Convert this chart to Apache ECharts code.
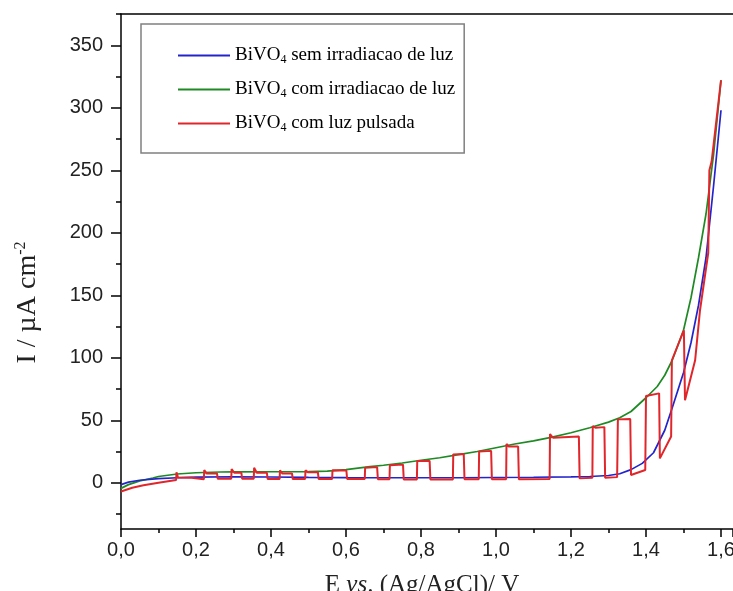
<!DOCTYPE html>
<html>
<head>
<meta charset="utf-8">
<script src="https://cdn.jsdelivr.net/npm/echarts@6/dist/echarts.min.js"></script>
<style>html,body{margin:0;padding:0;background:#fff;}#c{width:733px;height:591px;}</style>
</head>
<body>
<div id="c"></div>
<script>
// ---- data ----
const xTickLabels = [0, 0.2, 0.4, 0.6, 0.8, 1.0, 1.2, 1.4, 1.6];
const yMajorTicks = [0, 50, 100, 150, 200, 250, 300, 350];
const yMinorTicks = [-25, 25, 75, 125, 175, 225, 275, 325, 375];

const blueE = [0,0.02,0.05,0.1,0.15,0.2,0.3,0.4,0.5,0.6,0.7,0.8,0.9,1.0,1.1,1.2,1.25,1.3,1.33,1.36,1.39,1.42,1.45,1.47,1.5,1.52,1.54,1.56,1.58,1.6];
const blueI = [-1.5,0.5,2,3.3,4,4.5,4.8,4.6,4.3,4.1,4,4,4,4.2,4.4,4.7,5,5.8,7.2,10.5,15.5,24,42,60,88,112,142,180,237,298];

const greenE = [0,0.02,0.05,0.085,0.1,0.15,0.2,0.264,0.3,0.4,0.5,0.55,0.6,0.664,0.7,0.75,0.8,0.85,0.9,0.95,1.0,1.05,1.1,1.15,1.2,1.25,1.3,1.33,1.36,1.4,1.43,1.45,1.47,1.5,1.52,1.54,1.56,1.58,1.6];
const greenI = [-4.5,-1.5,1.5,3.8,5,7,8,8.6,8.7,8.8,8.9,9.3,10.5,12.9,14,15.8,18,20,22.5,25,28,31,33.5,36.5,40,44,48.5,52,57,68,77,86,98,122,148,180,215,262,322];

const redE = [0,0.03,0.06,0.1,0.147,
  0.148,0.152,0.188,0.19,0.221,
  0.222,0.228,0.256,0.258,0.294,
  0.295,0.302,0.321,0.323,0.354,
  0.355,0.362,0.389,0.391,0.423,
  0.424,0.43,0.456,0.458,0.491,
  0.492,0.498,0.525,0.527,0.563,
  0.564,0.601,0.603,0.65,
  0.651,0.683,0.685,0.716,
  0.717,0.752,0.754,0.789,
  0.79,0.823,0.825,0.885,
  0.886,0.914,0.916,0.954,
  0.955,0.987,0.989,1.027,
  1.028,1.034,1.059,1.061,1.143,
  1.144,1.152,1.221,1.223,1.257,
  1.258,1.265,1.289,1.291,1.323,
  1.325,1.358,1.36,1.398,
  1.4,1.435,1.437,1.467,
  1.469,1.501,1.504,1.531,1.544,1.566,1.569,1.575,1.6];
const redI = [-7,-4,-2,0,2.2,
  8.3,4.2,4,2.5,2.8,
  10.2,7.5,7.5,3.2,3.2,
  11,8,8,3.2,3.2,
  12,8,8,3,3,
  10,7.5,7.5,3,3,
  10,8.5,8.5,3,3,
  10,9.8,3,3,
  12,12.5,2.8,2.8,
  14,14.5,2.7,2.7,
  17.4,17.5,2.7,2.7,
  22.7,23,2.8,2.8,
  25,25.5,2.8,2.8,
  31,29,29,2.8,3,
  39,36,37,3.5,4,
  45.4,44,44.5,4,4.5,
  50.7,51,6.2,10.2,
  69.4,71.5,19.5,37,
  98,122,66,98,138,184,250,257,322];

function zip(a, b) { return a.map((v, i) => [v, b[i]]); }

const serif = 'Liberation Serif';
const sans = 'Liberation Sans';
const X_MAX = 1.632;

const chart = echarts.init(document.getElementById('c'), null, {renderer: 'canvas'});
chart.setOption({
  animation: false,
  backgroundColor: '#fff',
  grid: {left: 121, top: 14, bottom: 62, right: 0, show: false, outerBoundsMode: 'none', containLabel: false},
  legend: {
    orient: 'vertical', left: 141, top: 24,
    padding: [22, 9, 19, 37], itemGap: 14, itemWidth: 52, itemHeight: 2,
    icon: 'rect',
    borderColor: '#808080', borderWidth: 1.5, backgroundColor: '#fff',
    textStyle: {
      fontFamily: serif, fontSize: 19, color: '#000',
      rich: {
        a: {fontFamily: serif, fontSize: 19, color: '#000'},
        s: {fontFamily: serif, fontSize: 12, color: '#000', verticalAlign: 'bottom', padding: [9, 0, 0, 0]}
      }
    },
    formatter: function (name) {
      const rest = name.replace('BiVO4', '');
      return '{a|BiVO}{s|4}{a|' + rest + '}';
    },
    data: ['BiVO4 sem irradiacao de luz', 'BiVO4 com irradiacao de luz', 'BiVO4 com luz pulsada']
  },
  xAxis: [{
    type: 'value', min: 0, max: X_MAX, interval: 0.2,
    axisLine: {show: true, onZero: false, lineStyle: {color: '#000', width: 1.5}},
    axisTick: {show: true, inside: false, length: 8, lineStyle: {color: '#000', width: 1.5}},
    minorTick: {show: true, splitNumber: 2, length: 4, lineStyle: {color: '#000', width: 1.5}},
    splitLine: {show: false},
    axisLabel: {
      margin: 11, fontFamily: sans, fontSize: 20, color: '#222',
      customValues: xTickLabels,
      formatter: v => v.toFixed(1).replace('.', ',')
    },
    name: '{a|E }{i|vs}{a|. (Ag/AgCl)/ V}',
    nameLocation: 'middle', nameGap: 44,
    nameTextStyle: {
      padding: [0, 10, 0, 0],
      rich: {
        a: {fontFamily: serif, fontSize: 25, color: '#222'},
        i: {fontFamily: serif, fontSize: 25, fontStyle: 'italic', color: '#222'}
      }
    }
  }, {
    type: 'value', min: 0, max: X_MAX, position: 'top',
    axisLine: {show: true, onZero: false, lineStyle: {color: '#000', width: 1.5}},
    axisTick: {show: false}, axisLabel: {show: false}, splitLine: {show: false}
  }],
  yAxis: [{
    type: 'value', min: -37, max: 375,
    axisLine: {show: true, onZero: false, lineStyle: {color: '#000', width: 1.5}},
    axisTick: {show: true, inside: false, length: 10, customValues: yMajorTicks, lineStyle: {color: '#000', width: 1.5}},
    splitLine: {show: false},
    axisLabel: {margin: 18, fontFamily: sans, fontSize: 20, color: '#222', customValues: yMajorTicks},
    name: '{a|I / \u00b5A cm}{p|-2}',
    nameLocation: 'middle', nameGap: 78, nameRotate: 90,
    nameTextStyle: {
      padding: [0, 62, 0, 0],
      rich: {
        a: {fontFamily: serif, fontSize: 28, color: '#222'},
        p: {fontFamily: serif, fontSize: 16, color: '#222', verticalAlign: 'top', padding: [0, 0, 14, 0]}
      }
    }
  }, {
    type: 'value', min: -37, max: 375, position: 'left',
    axisLine: {show: false},
    axisTick: {show: true, inside: false, length: 5, customValues: yMinorTicks, lineStyle: {color: '#000', width: 1.5}},
    axisLabel: {show: false},
    splitLine: {show: false}
  }],
  series: [
    {name: 'BiVO4 sem irradiacao de luz', type: 'line', symbol: 'none', data: zip(blueE, blueI),
     lineStyle: {color: '#2424cc', width: 1.7}, itemStyle: {color: '#2424cc'}, z: 3},
    {name: 'BiVO4 com irradiacao de luz', type: 'line', symbol: 'none', data: zip(greenE, greenI),
     lineStyle: {color: '#1f8a24', width: 1.7}, itemStyle: {color: '#1f8a24'}, z: 2},
    {name: 'BiVO4 com luz pulsada', type: 'line', symbol: 'none', data: zip(redE, redI),
     lineStyle: {color: '#e0262a', width: 2}, itemStyle: {color: '#e0262a'}, z: 4}
  ]
});
</script>
</body>
</html>
